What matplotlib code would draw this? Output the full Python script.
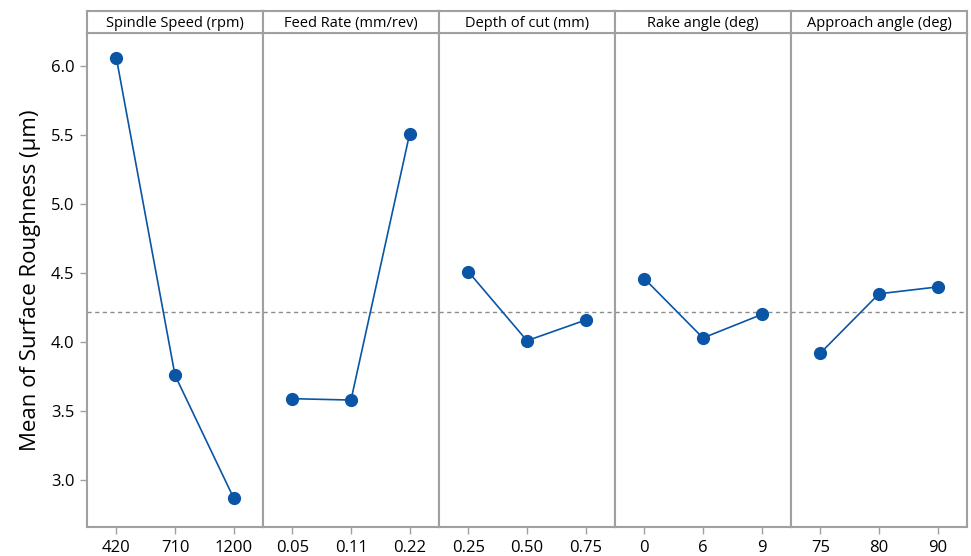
import matplotlib
matplotlib.use("Agg")
import matplotlib.pyplot as plt

plt.rcParams['font.family'] = ['Open Sans', 'DejaVu Sans']

factors = ['Spindle Speed (rpm)', 'Feed Rate (mm/rev)', 'Depth of cut (mm)',
           'Rake angle (deg)', 'Approach angle (deg)']
levels = [['420', '710', '1200'],
          ['0.05', '0.11', '0.22'],
          ['0.25', '0.50', '0.75'],
          ['0', '6', '9'],
          ['75', '80', '90']]
spindle_means = [6.06, 3.76, 2.87]
feed_means = [3.59, 3.58, 5.51]
depth_means = [4.51, 4.01, 4.16]
rake_means = [4.46, 4.03, 4.20]
approach_means = [3.92, 4.35, 4.40]
grand_mean = 4.22
yticks = [3.0, 3.5, 4.0, 4.5, 5.0, 5.5, 6.0]

all_means = [spindle_means, feed_means, depth_means, rake_means, approach_means]

W, H = 971, 556
fig = plt.figure(figsize=(W / 100, H / 100), dpi=100)

left, right = 87, 967
top_hdr, hdr_bot, bottom = 11, 33, 527
pw = (right - left) / 5
frame = '#a0a0a0'
blue = '#0a55a5'

for i, (name, labs, means) in enumerate(zip(factors, levels, all_means)):
    x0 = left + i * pw
    ax = fig.add_axes([x0 / W, 1 - bottom / H, pw / W, (bottom - hdr_bot) / H])
    xs = range(len(means))
    ax.plot(xs, means, color=blue, lw=1.2, marker='o', ms=8.5,
            markerfacecolor=blue, markeredgecolor=blue, zorder=3)
    ax.axhline(grand_mean, color='#8c8c8c', lw=1, ls=(0, (3, 2.5)), zorder=1)
    ax.set_xlim(-0.5, 2.5)
    ax.set_ylim(2.66, 6.24)
    ax.set_xticks(list(xs))
    ax.set_xticklabels(labs, fontsize=12, color='#000000')
    ax.set_yticks(yticks)
    if i == 0:
        ax.set_yticklabels([f'{v:.1f}' for v in yticks], fontsize=12, color='#000000')
        ax.set_ylabel('Mean of Surface Roughness (μm)', fontsize=16, labelpad=7)
    else:
        ax.tick_params(axis='y', left=False, labelleft=False)
    ax.tick_params(axis='both', direction='out', length=5, width=1, color=frame, pad=4)
    for sp in ax.spines.values():
        sp.set_color(frame)
        sp.set_linewidth(1.5)

    hx = fig.add_axes([x0 / W, 1 - hdr_bot / H, pw / W, (hdr_bot - top_hdr) / H])
    hx.set_xticks([])
    hx.set_yticks([])
    for sp in hx.spines.values():
        sp.set_color(frame)
        sp.set_linewidth(1.5)
    hx.text(0.5, 0.45, name, ha='center', va='center', fontsize=10.5,
            color='#000000', transform=hx.transAxes)

fig.savefig('out.png', dpi=100, facecolor='white')
